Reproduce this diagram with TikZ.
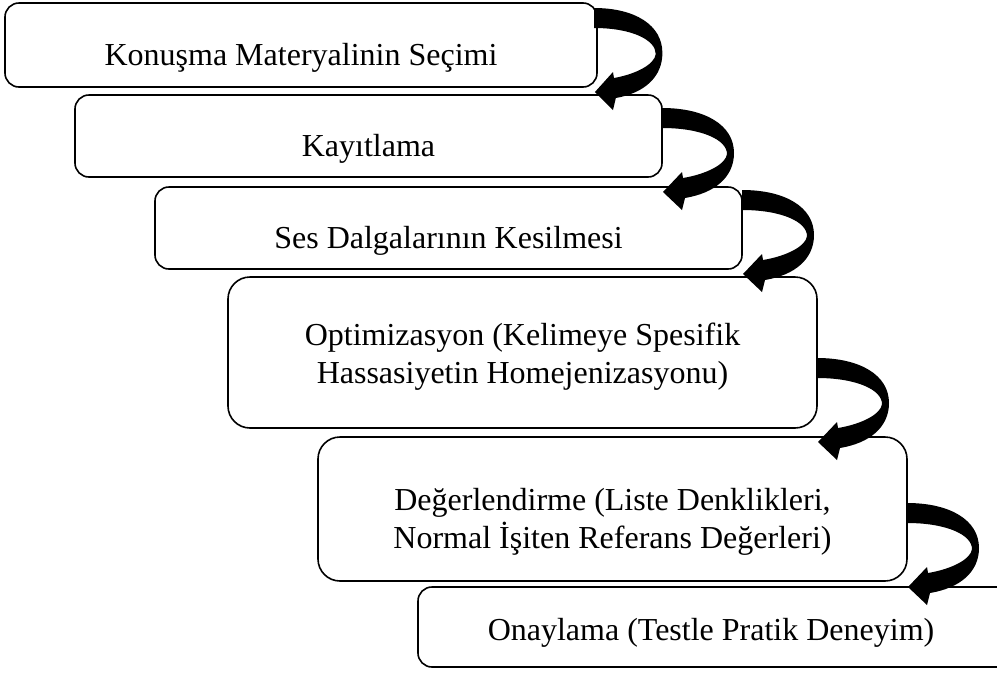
\documentclass[tikz,border=0pt]{standalone}
\usepackage{fontspec}
\setmainfont{Liberation Serif}
\usetikzlibrary{calc}
\tikzset{
  stepbox/.style={draw=black, line width=1.6pt, rounded corners=#1, inner sep=0pt, outer sep=0pt, fill=white},
  lbl/.style={font=\fontsize{32}{38}\selectfont, align=center, inner sep=0pt},
  carrow/.pic={
    \fill[black] (0,0) .. controls (43,0) and (72,17) .. (72,45)
      .. controls (72,69) and (53,85) .. (23,90)
      -- (20,102) -- (1,84) -- (20,64) -- (21,70)
      .. controls (45,66) and (64,56) .. (65,46)
      .. controls (65,32) and (40,20) .. (0,20) -- cycle;
  }
}
\newcommand{\sline}[1]{\rule[-11.4pt]{0pt}{38pt}#1}
\begin{document}
\begin{tikzpicture}[x=1pt,y=-1pt]
\useasboundingbox (0,0) rectangle (997,673);
% boxes
\node[stepbox=14pt, minimum width=592pt, minimum height=84pt] (b1) at (301,45) {};
\node[stepbox=14pt, minimum width=587pt, minimum height=82pt] (b2) at (368.5,136) {};
\node[stepbox=14pt, minimum width=587pt, minimum height=82pt] (b3) at (448.5,228) {};
\node[stepbox=22pt, minimum width=589pt, minimum height=151pt] (b4) at (522.5,352.5) {};
\node[stepbox=22pt, minimum width=589pt, minimum height=144pt] (b5) at (612.5,509) {};
\node[stepbox=14pt, minimum width=610pt, minimum height=80pt] (b6) at (723,627) {};
% texts
\node[lbl] (t1) at (301,57.4) {\sline{Konuşma Materyalinin Seçimi}};
\node[lbl] (t2) at (368.5,148.4) {\sline{Kayıtlama}};
\node[lbl] (t3) at (448.5,240.4) {\sline{Ses Dalgalarının Kesilmesi}};
\node[lbl] (t4) at (522.5,356.4) {\sline{Optimizasyon (Kelimeye Spesifik}\\\sline{Hassasiyetin Homejenizasyonu)}};
\node[lbl] (t5) at (612.5,521.4) {\sline{Değerlendirme (Liste Denklikleri,}\\\sline{Normal İşiten Referans Değerleri)}};
\node[lbl] (t6) at (711,632.4) {\sline{Onaylama (Testle Pratik Deneyim)}};
% curved arrows
\pic[xscale=0.95] at ($(b1.north east)+(-3,5)$) {carrow};
\pic at ($(b2.north east)+(0,13)$) {carrow};
\pic at ($(b3.north east)+(0,3)$) {carrow};
\pic at ($(b4.north east)+(0,81)$) {carrow};
\pic at ($(b5.north east)+(0,66)$) {carrow};
\end{tikzpicture}
\end{document}
